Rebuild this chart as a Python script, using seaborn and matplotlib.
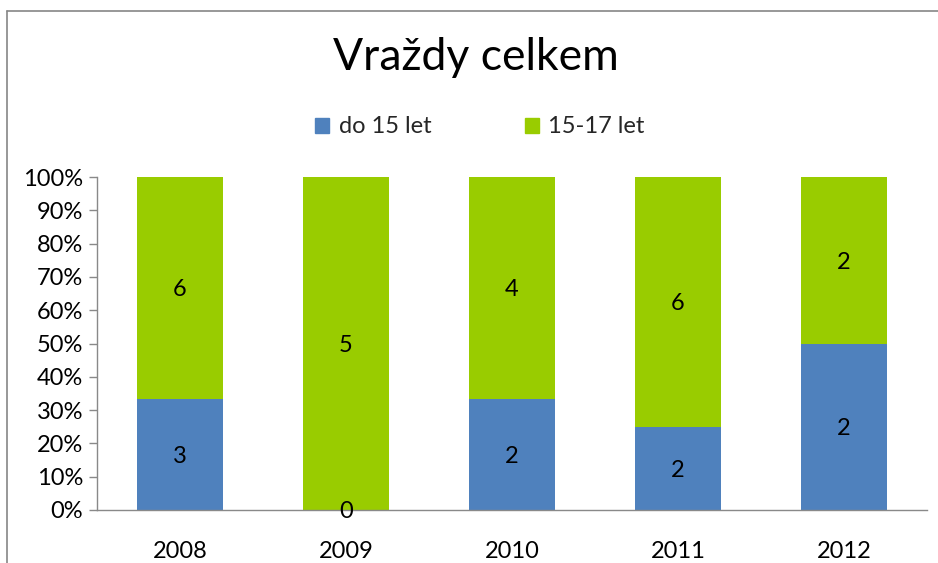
import matplotlib
matplotlib.use("Agg")
import matplotlib.pyplot as plt
import seaborn as sns
import numpy as np
import pandas as pd
from matplotlib.patches import Rectangle
from matplotlib.ticker import FuncFormatter

years = ["2008", "2009", "2010", "2011", "2012"]
under15 = [3, 0, 2, 2, 2]
age15_17 = [6, 5, 4, 6, 2]
series_names = ["do 15 let", "15-17 let"]
title = "Vraždy celkem"

blue = "#4F81BD"
green = "#99CC00"

sns.set_theme(style="white")
plt.rcParams['font.family'] = ['Lato', 'DejaVu Sans']

tot = np.array(under15) + np.array(age15_17)
df = pd.DataFrame({
    "year": years,
    "low": np.array(under15) / tot,
    "total": np.ones(len(years)),
})

fig = plt.figure(figsize=(9.38, 5.63), dpi=100)
ax = fig.add_axes([97/938, 1 - 510/563, 830/938, 333/563])

sns.barplot(data=df, x="year", y="total", color=green, width=0.52, ax=ax,
            saturation=1, linewidth=0)
sns.barplot(data=df, x="year", y="low", color=blue, width=0.52, ax=ax,
            saturation=1, linewidth=0)

ax.set_ylim(0, 1)
ax.set_xlim(-0.5, len(years) - 0.5)
ax.set_yticks(np.linspace(0, 1, 11))
ax.yaxis.set_major_formatter(FuncFormatter(lambda v, p: f"{int(round(v*100))}%"))
ax.set_xlabel("")
ax.set_ylabel("")
ax.tick_params(axis='y', which='major', left=True, length=6, width=1,
               color="#898989", labelsize=17, pad=4, labelcolor="black")
ax.tick_params(axis='x', bottom=False, labelsize=17, pad=16, labelcolor="black")
for s in ["top", "right"]:
    ax.spines[s].set_visible(False)
for s in ["left", "bottom"]:
    ax.spines[s].set_color("#898989")
    ax.spines[s].set_linewidth(1)

# data labels
for i in range(len(years)):
    lowf = under15[i] / tot[i]
    ax.text(i, lowf / 2, str(under15[i]), ha="center", va="center_baseline", fontsize=17, color="black")
    ax.text(i, lowf + (1 - lowf) / 2, str(age15_17[i]), ha="center", va="center_baseline", fontsize=17, color="black")

# legend
handles = [Rectangle((0, 0), 1, 1, color=blue), Rectangle((0, 0), 1, 1, color=green)]
fig.legend(handles, series_names, loc="center", bbox_to_anchor=(480/938, 1 - 127/563),
           ncol=2, frameon=False, fontsize=17, handlelength=0.6, handleheight=0.6,
           columnspacing=3.95, handletextpad=0.4)

fig.text(476/938, 1 - 58/563, title, ha="center", va="center", fontsize=32, color="black")

# chart border
fig.add_artist(plt.Line2D([7/938, 1], [1 - 11/563, 1 - 11/563], transform=fig.transFigure,
                          color="#868686", lw=1.2))
fig.add_artist(plt.Line2D([7/938, 7/938], [0, 1 - 11/563], transform=fig.transFigure,
                          color="#868686", lw=1.2))

fig.savefig("out.png", dpi=100)
